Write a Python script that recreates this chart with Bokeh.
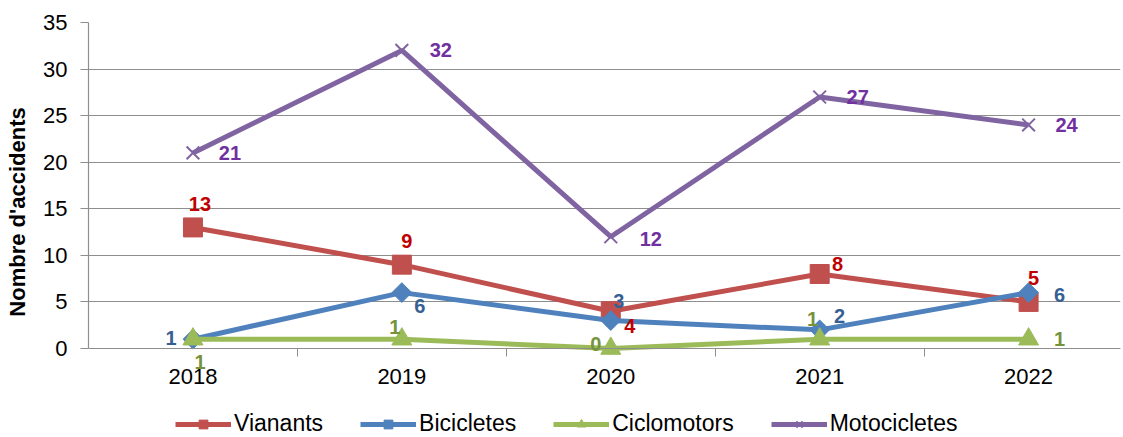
from bokeh.plotting import figure
from bokeh.models import (ColumnDataSource, Range1d, FixedTicker, Legend,
                          LegendItem, LabelSet)
from bokeh.layouts import column
from bokeh.core.properties import value
from bokeh.embed import file_html
from bokeh.resources import INLINE

# ---- data ----
years = [2018, 2019, 2020, 2021, 2022]
vianants = [13, 9, 4, 8, 5]
bicicletes = [1, 6, 3, 2, 6]
ciclomotors = [1, 1, 0, 1, 1]
motocicletes = [21, 32, 12, 27, 24]
series_names = ["Vianants", "Bicicletes", "Ciclomotors", "Motocicletes"]
y_ticks = [0, 5, 10, 15, 20, 25, 30, 35]

# ---- label placement (screen px offsets, +y = up) ----
off_vianants = ([7, 5, 19, 18, 5], [23, 24, -15, 10, 24])
off_bicicletes = ([-22, 18, 8, 20, 31], [1, -13, 20, 14, -2])
off_ciclomotors = ([7, -7, -15, -7, 31], [-23, 12, 5, 20, 0])
off_motocicletes = ([37, 39, 40, 38, 38], [0, 0, -2, 0, 0])

FONT = "Liberation Sans"
W = 1123
H_MAIN = 401
H_LEG = 36
TOP, ZERO_PX = 22, 348          # frame top / pixel row of the zero line
y_max = 35
px_per_unit = (ZERO_PX - TOP) / y_max
y_min = -(H_MAIN - ZERO_PX) / px_per_unit   # room below zero for the x axis

p = figure(width=W, height=H_MAIN, output_backend="svg", toolbar_location=None,
           x_range=Range1d(2017.5, 2022.44), y_range=Range1d(y_min, y_max),
           min_border_left=88, min_border_right=3, min_border_top=TOP,
           min_border_bottom=0)
p.outline_line_color = None
p.background_fill_color = "white"

# grid
p.xgrid.grid_line_color = None
p.ygrid.grid_line_color = "#8e8e8e"
p.ygrid.grid_line_width = 1.2
p.ygrid.ticker = FixedTicker(ticks=y_ticks)

# y axis
p.yaxis.ticker = FixedTicker(ticks=y_ticks)
p.yaxis.bounds = (0, y_max)
p.yaxis.axis_line_color = "#8e8e8e"
p.yaxis.axis_line_width = 1.2
p.yaxis.major_tick_line_color = "#8e8e8e"
p.yaxis.major_tick_out = 8
p.yaxis.major_tick_in = 0
p.yaxis.minor_tick_line_color = None
p.yaxis.major_label_text_font = FONT
p.yaxis.major_label_text_font_size = "22px"
p.yaxis.major_label_text_color = "#000000"
p.yaxis.major_label_standoff = 13
p.yaxis.axis_label = "Nombre d'accidents"
p.yaxis.axis_label_text_font = FONT
p.yaxis.axis_label_text_font_size = "22px"
p.yaxis.axis_label_text_font_style = "bold"
p.yaxis.axis_label_text_color = "#000000"
p.yaxis.axis_label_standoff = 10

# x axis, pinned at zero
p.xaxis.fixed_location = 0
p.xaxis.ticker = FixedTicker(ticks=years,
                             minor_ticks=[y + 0.5 for y in years[:-1]])
p.xaxis.axis_line_color = "#8e8e8e"
p.xaxis.axis_line_width = 1.2
p.xaxis.major_tick_out = 0
p.xaxis.major_tick_in = 0
p.xaxis.minor_tick_line_color = "#8e8e8e"
p.xaxis.minor_tick_out = 8
p.xaxis.minor_tick_in = 0
p.xaxis.major_label_text_font = FONT
p.xaxis.major_label_text_font_size = "22px"
p.xaxis.major_label_text_color = "#000000"
p.xaxis.major_label_standoff = 12

specs = [
    (vianants, off_vianants, "#C0504D", "#C00000", "square", 19, 0.0),
    (bicicletes, off_bicicletes, "#4F81BD", "#376092", "square", 14, 0.785398),
    (ciclomotors, off_ciclomotors, "#9BBB59", "#76923C", "triangle", 20, 0.0),
    (motocicletes, off_motocicletes, "#8064A2", "#7030A0", "x", 18, 0.0),
]

# legend strip (below the chart)
pl = figure(width=W, height=H_LEG, output_backend="svg", toolbar_location=None,
            x_range=Range1d(0, 1), y_range=Range1d(0, 1),
            min_border_left=0, min_border_right=0, min_border_top=0,
            min_border_bottom=0)
pl.axis.visible = False
pl.grid.grid_line_color = None
pl.outline_line_color = None

items = []
for name, (vals, offs, col, lcol, mk, sz, ang) in zip(series_names, specs):
    src = ColumnDataSource(dict(x=years, y=vals, label=[str(v) for v in vals],
                                dx=offs[0], dy=offs[1]))
    p.line("x", "y", source=src, line_color=col, line_width=5)
    if mk == "x":
        p.scatter("x", "y", source=src, marker="x", size=sz,
                  line_color=col, line_width=2)
    else:
        p.scatter("x", "y", source=src, marker=mk, size=sz, angle=ang,
                  fill_color=col, line_color=col, line_width=1)
    p.add_layout(LabelSet(x="x", y="y", text="label", source=src,
                          x_offset="dx", y_offset="dy",
                          text_font=value(FONT), text_font_size="20px",
                          text_font_style="bold", text_color=lcol,
                          text_align="center", text_baseline="middle"))
    # legend sample glyphs (same data, outside the legend strip's ranges)
    ln = pl.line("x", "y", source=src, line_color=col, line_width=5)
    if mk == "x":
        mr = pl.scatter("x", "y", source=src, marker="x", size=sz - 2,
                        line_color=col, line_width=2)
    else:
        mr = pl.scatter("x", "y", source=src, marker=mk, size=sz - 3,
                        angle=ang, fill_color=col, line_color=col)
    items.append(LegendItem(label=name, renderers=[ln, mr]))

# the strip's frame is aligned with the chart frame (left edge at 88px)
legend = Legend(items=items, orientation="horizontal",
                location=(87, 0),
                label_text_font=FONT, label_text_font_size="23px",
                label_text_color="#000000",
                glyph_width=56, glyph_height=22, label_height=22,
                label_standoff=3, spacing=37, padding=0, margin=0,
                border_line_color=None, background_fill_alpha=0)
pl.add_layout(legend, "center")

layout = column(p, pl, spacing=0)
open("out.html", "w").write(file_html(layout, INLINE))
